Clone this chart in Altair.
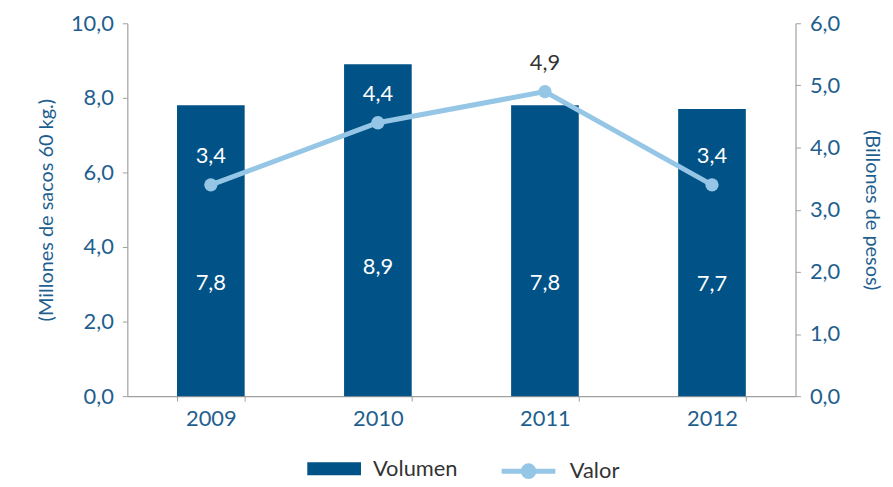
import altair as alt
import pandas as pd

years = ["2009", "2010", "2011", "2012"]
volumen = [7.8, 8.9, 7.8, 7.7]
valor = [3.4, 4.4, 4.9, 3.4]

df = pd.DataFrame({"year": years, "volumen": volumen, "valor": valor,
                   "serie_v": ["Volumen"] * 4, "serie_l": ["Valor"] * 4})

BLUE_TXT = "#1f5f8f"
BAR = "#005287"
LINE = "#95c6e6"
GRAY = "#a0a0a0"
FONT = "Lato"
FS = 22
fmt = "replace(format(datum.value, '.1f'), '.', ',')"

x = alt.X("year:N", title=None,
          scale=alt.Scale(paddingInner=0.595, paddingOuter=0.2975),
          axis=alt.Axis(labelAngle=0, labelColor=BLUE_TXT, labelFont=FONT, labelFontSize=FS,
                        domainColor=GRAY, tickColor=GRAY, tickBand="extent", tickSize=5,
                        labelPadding=8, domainWidth=1.2))

left_axis = alt.Axis(values=[0, 2, 4, 6, 8, 10], labelExpr=fmt, grid=False,
                     labelColor=BLUE_TXT, labelFont=FONT, labelFontSize=FS,
                     titleColor=BLUE_TXT, titleFont=FONT, titleFontSize=20, titleFontWeight="normal",
                     domainColor=GRAY, tickColor=GRAY, tickSize=5, labelPadding=9,
                     titlePadding=14, domainWidth=1.2)
right_axis = alt.Axis(orient="right", values=[0, 1, 2, 3, 4, 5, 6], labelExpr=fmt, grid=False,
                      labelColor=BLUE_TXT, labelFont=FONT, labelFontSize=FS,
                      titleColor=BLUE_TXT, titleFont=FONT, titleFontSize=20, titleFontWeight="normal",
                      domainColor=GRAY, tickColor=GRAY, tickSize=5, labelPadding=9,
                      titlePadding=22, domainWidth=1.2)

def yl(field):
    return alt.Y(field, scale=alt.Scale(domain=[0, 10]), title="(Millones de sacos 60 kg.)", axis=left_axis)

def yr(field):
    return alt.Y(field, scale=alt.Scale(domain=[0, 6]), title="(Billones de pesos)", axis=right_axis)

base = alt.Chart(df)

bars = base.mark_bar(color=BAR).encode(
    x=x,
    y=yl("volumen:Q"),
    fill=alt.Fill("serie_v:N", scale=alt.Scale(domain=["Volumen"], range=[BAR]),
                  legend=alt.Legend(title=None, orient="none", legendX=181, legendY=421,
                                    symbolType="M-1,-0.24H1V0.24H-1Z", symbolSize=2916,
                                    symbolStrokeWidth=0, labelFont=FONT, labelFontSize=FS,
                                    labelColor="#333333", labelOffset=12)),
)

bar_labels = base.transform_calculate(
    ypos="datum.volumen * 0.39",
    lbl="replace(format(datum.volumen, '.1f'), '.', ',')"
).mark_text(color="white", font=FONT, fontSize=FS, baseline="middle").encode(
    x=x,
    y=yl("ypos:Q"),
    text="lbl:N",
)

left = alt.layer(bars, bar_labels)

line = base.mark_line(strokeWidth=5).encode(
    x=x, y=yr("valor:Q"),
    stroke=alt.Stroke("serie_l:N", scale=alt.Scale(domain=["Valor"], range=[LINE]),
                      legend=alt.Legend(title=None, orient="none", legendX=374, legendY=421,
                                        symbolType="M-1,0H1M-0.2,0A0.2,0.2 0 1,0 0.2,0A0.2,0.2 0 1,0 -0.2,0",
                                        symbolSize=2916, symbolStrokeWidth=5,
                                        symbolFillColor=LINE, labelFont=FONT, labelFontSize=FS,
                                        labelColor="#333333", labelOffset=12)),
)
points = base.mark_point(filled=True, size=180, opacity=1, color=LINE).encode(
    x=x, y=yr("valor:Q"))
line_labels = base.transform_calculate(
    lbl="replace(format(datum.valor, '.1f'), '.', ',')",
    inside="datum.valor / 6 * 10 < datum.volumen"
).mark_text(font=FONT, fontSize=FS, baseline="middle", dy=-29).encode(
    x=x,
    y=yr("valor:Q"),
    text="lbl:N",
    color=alt.condition("datum.inside", alt.value("white"), alt.value("#333333")),
)
right = alt.layer(line, points, line_labels)

chart = alt.layer(left, right).resolve_scale(y="independent", fill="independent", stroke="independent").properties(
    width=672, height=375,
    autosize=alt.AutoSizeParams(type="none"),
    padding={"left": 120, "top": 14, "right": 90, "bottom": 88},
).configure_view(stroke=None)

chart.save("out.html", embed_options={"renderer": "svg", "actions": False})
